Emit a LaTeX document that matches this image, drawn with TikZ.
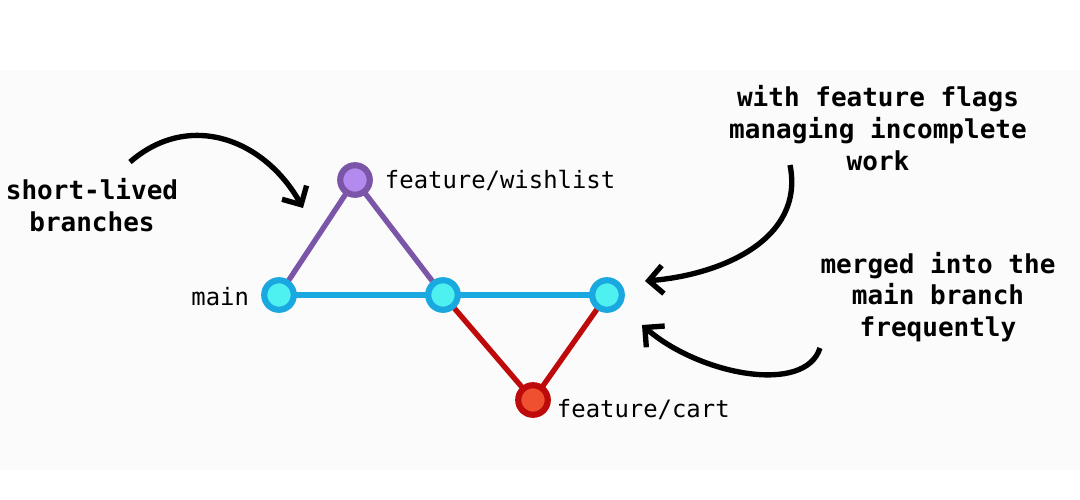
\documentclass[tikz,border=0pt]{standalone}
\usepackage{fontspec}
\setmainfont{DejaVu Sans Mono}
\usetikzlibrary{arrows.meta}
\definecolor{bluedot}{HTML}{19A8E0}
\definecolor{bluefill}{HTML}{4FF0F0}
\definecolor{purpdot}{HTML}{7B55A8}
\definecolor{purpfill}{HTML}{B48AF0}
\definecolor{reddot}{HTML}{BE0A0A}
\definecolor{redfill}{HTML}{EE5030}
\tikzset{
  commit/.style={circle,draw=#1dot,line width=4.4pt,fill=#1fill,minimum size=21pt,inner sep=0pt},
  branch/.style={line width=3.8pt,draw=#1dot},
  tag/.style={font=\fontsize{17}{20}\selectfont,anchor=west},
  note/.style={font=\bfseries\fontsize{18.5}{22.5}\selectfont,align=center},
  pointer/.style={line width=3.8pt,-{Straight Barb[length=10pt,width=20pt,line width=3.8pt]}}
}
\begin{document}
\begin{tikzpicture}[x=0.025cm,y=-0.025cm]
\fill[white] (0,0) rectangle (1080,500);
\fill[gray!3] (0,70) rectangle (1080,470);
\coordinate (A) at (279,295);
\coordinate (B) at (443,295);
\coordinate (C) at (607,295);
\coordinate (W) at (355,180);
\coordinate (R) at (533,400);
\draw[branch=purp] (A) -- (W) -- (B);
\draw[branch=red] (B) -- (R) -- (C);
\draw[branch=blue] (A) -- (C);
\node[commit=blue] (main) at (A) {};
\node[commit=blue] (mid) at (B) {};
\node[commit=blue] (end) at (C) {};
\node[commit=purp] (wish) at (W) {};
\node[commit=red] (cart) at (R) {};
\node[tag,anchor=east] at (254,297) {main};
\node[tag] at (380,180) {feature/wishlist};
\node[tag] at (552,410) {feature/cart};
\node[note] (n1) at (92,205) {short-lived\\branches};
\node[note] (n2) at (878,128) {with feature flags\\managing incomplete\\work};
\node[note] (n3) at (938,297) {merged into the\\main branch\\frequently};
\draw[pointer] (130,162) .. controls (190,110) and (265,140) .. (303,208);
\draw[pointer] (790,165) .. controls (805,240) and (720,275) .. (645,281);
\draw[pointer] (820,348) .. controls (805,395) and (700,375) .. (642,325);
\end{tikzpicture}
\end{document}
